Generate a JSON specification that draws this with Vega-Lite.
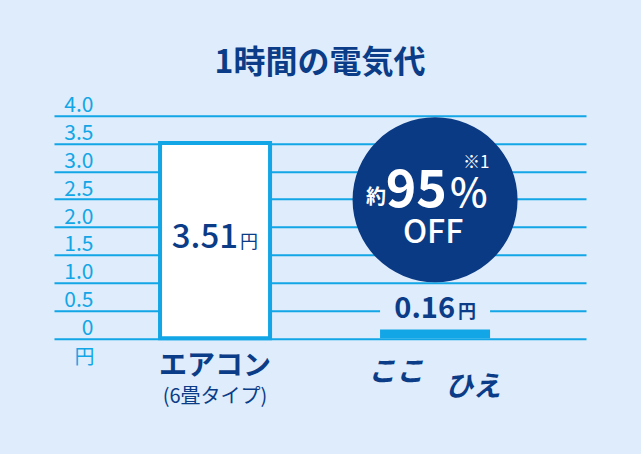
{
  "$schema": "https://vega.github.io/schema/vega-lite/v6.json",
  "autosize": {"type": "none"},
  "padding": {"left": 54, "top": 115.7, "right": 55, "bottom": 115.7},
  "width": 532,
  "height": 222.6,
  "background": "#deecfb",
  "title": {
    "text": "1時間の電気代",
    "font": "Noto Sans CJK JP",
    "fontSize": 32,
    "fontWeight": "bold",
    "color": "#0b3c87",
    "anchor": "middle",
    "frame": "group",
    "baseline": "middle",
    "offset": 0
  },
  "config": {
    "font": "Noto Sans CJK JP",
    "view": {"stroke": null},
    "text": {"font": "Noto Sans CJK JP", "color": "#0b3c87"},
    "axisY": {
      "tickCount": 8,
      "domain": false,
      "ticks": false,
      "tickSize": 0,
      "grid": true,
      "gridColor": "#12a6e6",
      "gridWidth": 2,
      "gridOpacity": 1,
      "labelExpr": "datum.value == 0 ? '0' : format(datum.value, '.1f')",
      "labelAlign": "right",
      "labelBaseline": "bottom",
      "labelPadding": -39,
      "labelFontSize": 21,
      "labelColor": "#12a6e6",
      "labelOverlap": false,
      "labelFlush": false,
      "labelBound": false,
      "titleAngle": 0,
      "titleX": 30,
      "titleY": 242,
      "titleAlign": "center",
      "titleBaseline": "middle",
      "titleFontSize": 20,
      "titleFontWeight": "normal",
      "titleColor": "#12a6e6"
    }
  },
  "data": {
    "values": [
      {"name": "エアコン", "value": 3.51, "sub": "(6畳タイプ)"},
      {"name": "ここひえ", "value": 0.16, "sub": ""}
    ]
  },
  "encoding": {
    "x": {
      "field": "name",
      "type": "nominal",
      "sort": null,
      "scale": {"domain": ["エアコン", "ここひえ"], "paddingInner": 0.5, "paddingOuter": 0.459, "align": 0.525},
      "axis": {
        "title": null,
        "domain": false,
        "ticks": false,
        "tickSize": 0,
        "labelAngle": 0,
        "labelPadding": 28,
        "labelBaseline": "middle",
        "labelFontSize": 28,
        "labelFontWeight": "bold",
        "labelColor": "#0b3c87",
        "labelExpr": "datum.value === 'ここひえ' ? '' : datum.value"
      }
    }
  },
  "layer": [
    {
      "transform": [{"filter": "datum.name === 'ここひえ'"}],
      "mark": {"type": "bar", "color": "#deecfb"},
      "encoding": {
        "y": {"datum": 0.43, "type": "quantitative", "title": "円", "scale": {"domain": [0, 4], "nice": false}},
        "y2": {"datum": 0.57}
      }
    },
    {
      "mark": {"type": "bar", "stroke": "#12a6e6"},
      "encoding": {
        "y": {"field": "value", "type": "quantitative", "title": "円"},
        "fill": {
          "condition": {"test": "datum.name === 'エアコン'", "value": "#ffffff"},
          "value": "#12a6e6"
        },
        "strokeWidth": {
          "condition": {"test": "datum.name === 'エアコン'", "value": 4},
          "value": 0
        }
      }
    },
    {
      "transform": [{"filter": "datum.name === 'エアコン'"}],
      "mark": {"type": "text", "align": "right", "baseline": "alphabetic", "dx": 23, "dy": 105, "fontSize": 33, "fontWeight": 500},
      "encoding": {
        "y": {"field": "value", "type": "quantitative", "title": "円"},
        "text": {"field": "value", "type": "quantitative", "format": ".2f"}
      }
    },
    {
      "transform": [{"filter": "datum.name === 'エアコン'"}],
      "mark": {"type": "text", "align": "left", "baseline": "alphabetic", "dx": 25, "dy": 105, "fontSize": 18, "text": "円"},
      "encoding": {
        "y": {"field": "value", "type": "quantitative", "title": "円"}
      }
    },
    {
      "transform": [{"filter": "datum.name === 'ここひえ'"}],
      "mark": {"type": "text", "align": "right", "baseline": "alphabetic", "dx": 20, "dy": -11, "fontSize": 29, "fontWeight": "bold"},
      "encoding": {
        "y": {"field": "value", "type": "quantitative", "title": "円"},
        "text": {"field": "value", "type": "quantitative", "format": ".2f"}
      }
    },
    {
      "transform": [{"filter": "datum.name === 'ここひえ'"}],
      "mark": {"type": "text", "align": "left", "baseline": "alphabetic", "dx": 23, "dy": -11, "fontSize": 18, "fontWeight": "bold", "text": "円"},
      "encoding": {
        "y": {"field": "value", "type": "quantitative", "title": "円"}
      }
    },
    {
      "transform": [{"filter": "datum.name === 'ここひえ'"}],
      "mark": {"type": "point", "shape": "circle", "filled": true, "opacity": 1, "color": "#0b3a84", "size": 27225},
      "encoding": {
        "y": {"datum": 2.49, "type": "quantitative", "title": "円"}
      }
    },
    {
      "transform": [{"filter": "datum.name === 'ここひえ'"}],
      "mark": {"type": "text", "align": "center", "baseline": "middle", "dx": -59, "dy": -2, "fontSize": 20, "fontWeight": "bold", "color": "#ffffff", "text": "約"},
      "encoding": {"y": {"datum": 2.49, "type": "quantitative", "title": "円"}}
    },
    {
      "transform": [{"filter": "datum.name === 'ここひえ'"}],
      "mark": {"type": "text", "align": "right", "baseline": "alphabetic", "dx": 12, "dy": 7, "fontSize": 52, "fontWeight": "bold", "color": "#ffffff", "text": "95"},
      "encoding": {"y": {"datum": 2.49, "type": "quantitative", "title": "円"}}
    },
    {
      "transform": [{"filter": "datum.name === 'ここひえ'"}],
      "mark": {"type": "text", "align": "left", "baseline": "alphabetic", "dx": 15, "dy": 7, "fontSize": 40, "fontWeight": 500, "color": "#ffffff", "text": "%"},
      "encoding": {"y": {"datum": 2.49, "type": "quantitative", "title": "円"}}
    },
    {
      "transform": [{"filter": "datum.name === 'ここひえ'"}],
      "mark": {"type": "text", "align": "left", "baseline": "alphabetic", "dx": 28, "dy": -32, "fontSize": 17, "color": "#ffffff", "text": "※1"},
      "encoding": {"y": {"datum": 2.49, "type": "quantitative", "title": "円"}}
    },
    {
      "transform": [{"filter": "datum.name === 'ここひえ'"}],
      "mark": {"type": "text", "align": "center", "baseline": "alphabetic", "dx": -2, "dy": 43, "fontSize": 32, "fontWeight": 500, "color": "#ffffff", "text": "OFF"},
      "encoding": {"y": {"datum": 2.49, "type": "quantitative", "title": "円"}}
    },
    {
      "transform": [{"filter": "datum.name === 'エアコン'"}],
      "mark": {"type": "text", "align": "center", "baseline": "middle", "dy": 59, "fontSize": 20},
      "encoding": {
        "y": {"datum": 0, "type": "quantitative", "title": "円"},
        "text": {"field": "sub"}
      }
    },
    {
      "transform": [{"filter": "datum.name === 'ここひえ'"}],
      "mark": {"type": "text", "align": "center", "baseline": "middle", "dx": -39, "dy": 35, "fontSize": 28, "fontWeight": "bold", "fontStyle": "italic", "color": "#0b3c87", "text": "ここ"},
      "encoding": {"y": {"datum": 0, "type": "quantitative", "title": "円"}}
    },
    {
      "transform": [{"filter": "datum.name === 'ここひえ'"}],
      "mark": {"type": "text", "align": "center", "baseline": "middle", "dx": 38, "dy": 50, "fontSize": 28, "fontWeight": "bold", "fontStyle": "italic", "color": "#0b3c87", "text": "ひえ"},
      "encoding": {"y": {"datum": 0, "type": "quantitative", "title": "円"}}
    }
  ]
}
